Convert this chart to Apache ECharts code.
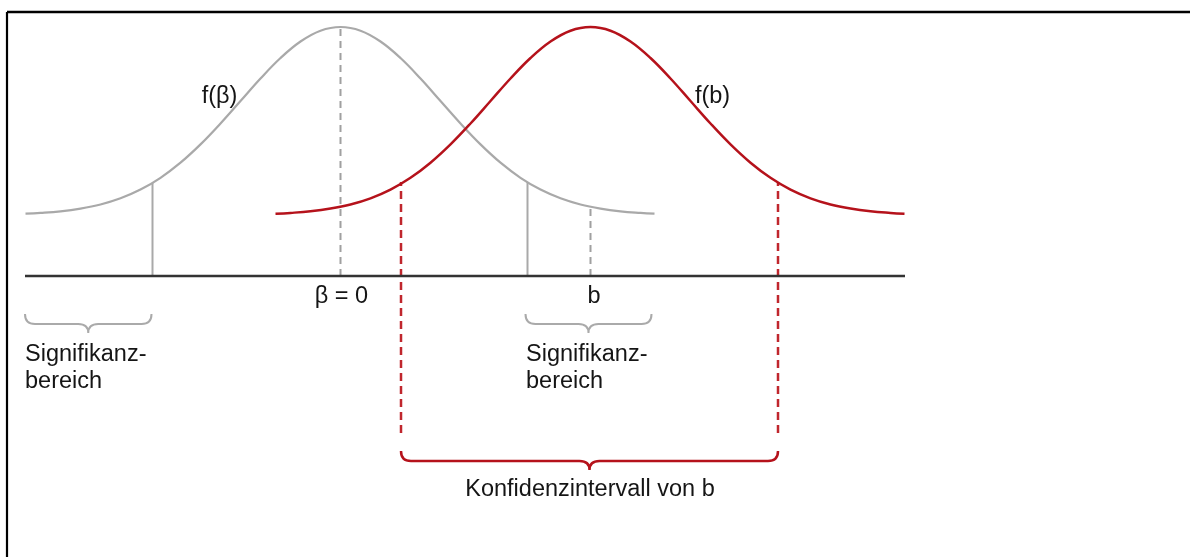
<!DOCTYPE html>
<html>
<head>
<meta charset="utf-8">
<title>Signifikanz und Konfidenzintervall</title>
<script src="https://cdn.jsdelivr.net/npm/echarts@6/dist/echarts.min.js"></script>
<style>
    html, body {margin: 0; padding: 0; background: #fff;}
    #echarts {width: 1190px; height: 557px;}
</style>
</head>
<body>
<div id="echarts"></div>
<script>
// x: Abstand von beta = 0 (1 = eine Standardabweichung), y: Hoehe ueber der Achse
var nullX = [-3.15, -3.0, -2.8, -2.6, -2.4, -2.2, -2.0, -1.8, -1.6, -1.4, -1.2, -1.0, -0.8, -0.6, -0.4, -0.2,
    0, 0.2, 0.4, 0.6, 0.8, 1.0, 1.2, 1.4, 1.6, 1.8, 2.0, 2.2, 2.4, 2.6, 2.8, 3.0, 3.14];
var nullY = [0.623, 0.631, 0.647, 0.674, 0.715, 0.777, 0.864, 0.982, 1.133, 1.316, 1.525, 1.750, 1.975, 2.180, 2.345, 2.453,
    2.490, 2.453, 2.345, 2.180, 1.975, 1.750, 1.525, 1.316, 1.133, 0.982, 0.864, 0.777, 0.715, 0.674, 0.647, 0.631, 0.623];

var bX = [-0.65, -0.5, -0.3, -0.1, 0.1, 0.3, 0.5, 0.7, 0.9, 1.1, 1.3, 1.5, 1.7, 1.9, 2.1, 2.3,
    2.5, 2.7, 2.9, 3.1, 3.3, 3.5, 3.7, 3.9, 4.1, 4.3, 4.5, 4.7, 4.9, 5.1, 5.3, 5.5, 5.64];
var bY = [0.623, 0.631, 0.647, 0.674, 0.715, 0.777, 0.864, 0.982, 1.133, 1.316, 1.525, 1.750, 1.975, 2.180, 2.345, 2.453,
    2.490, 2.453, 2.345, 2.180, 1.975, 1.750, 1.525, 1.316, 1.133, 0.982, 0.864, 0.777, 0.715, 0.674, 0.647, 0.631, 0.623];

var axisLine = [[-3.155, 0], [5.645, 0]];

// [x, y von, y bis]
var sigLines = [[-1.88, 0, 0.93], [1.87, 0, 0.94]];
var centerLines = [[0, 0, 2.49], [2.5, 0, 0.69]];
var ciLines = [[0.605, -1.57, 0.94], [4.375, -1.57, 0.94]];

// [x links, x rechts, y oben]
var sigBraces = [[-3.155, -1.89, -0.38], [1.85, 3.11, -0.38]];
var ciBraces = [[0.605, 4.375, -1.75]];

var labelTexts = ['f(β)', 'f(b)', 'β = 0', 'b', 'Signifikanz-\nbereich', 'Signifikanz-\nbereich', 'Konfidenzintervall von b'];
var labelX = [-1.21, 3.72, 0.01, 2.535, -3.155, 1.855, 2.495];
var labelY = [1.79, 1.79, -0.21, -0.21, -0.925, -0.925, -2.14];

function pairs(xs, ys) {
    var out = [];
    for (var i = 0; i < xs.length; i++) {
        out.push([xs[i], ys[i]]);
    }
    return out;
}

function segmentRender(color, width, dash) {
    return function (params, api) {
        var p1 = api.coord([api.value(0), api.value(1)]);
        var p2 = api.coord([api.value(0), api.value(2)]);
        return {
            type: 'line',
            shape: {x1: p1[0], y1: p1[1], x2: p2[0], y2: p2[1]},
            style: {stroke: color, lineWidth: width, lineDash: dash}
        };
    };
}

function braceRender(color, width) {
    return function (params, api) {
        var a = api.coord([api.value(0), api.value(2)]);
        var b = api.coord([api.value(1), api.value(2)]);
        var top = a[1], h = top + 10, tip = top + 19, r = 10;
        var mid = (a[0] + b[0]) / 2;
        var d = 'M' + a[0] + ' ' + top +
            ' Q' + a[0] + ' ' + h + ' ' + (a[0] + r) + ' ' + h +
            ' L' + (mid - r) + ' ' + h +
            ' Q' + mid + ' ' + h + ' ' + mid + ' ' + tip +
            ' Q' + mid + ' ' + h + ' ' + (mid + r) + ' ' + h +
            ' L' + (b[0] - r) + ' ' + h +
            ' Q' + b[0] + ' ' + h + ' ' + b[0] + ' ' + top;
        return {
            type: 'path',
            shape: {pathData: d},
            style: {stroke: color, lineWidth: width, fill: null}
        };
    };
}

function labelRender(params, api) {
    var p = api.coord([api.value(0), api.value(1)]);
    var txt = labelTexts[params.dataIndex];
    var multi = txt.indexOf('\n') > -1;
    return {
        type: 'text',
        x: p[0],
        y: p[1],
        style: {
            text: txt,
            fill: '#151515',
            fontSize: 23.5,
            fontFamily: '"Liberation Sans", Arial, sans-serif',
            align: multi ? 'left' : 'center',
            verticalAlign: 'middle',
            lineHeight: 27
        }
    };
}

var grau = '#a9a9a9';
var rot = '#b5121b';

var myChart = echarts.init(document.getElementById('echarts'));
var option = {
    animation: false,
    backgroundColor: '#fff',
    grid: {left: 0, right: 0, top: 0, bottom: 0},
    xAxis: {type: 'value', min: -3.405, max: 8.495, show: false},
    yAxis: {type: 'value', min: -2.81, max: 2.76, show: false},
    graphic: [
        {type: 'line', shape: {x1: 7, y1: 12, x2: 1190, y2: 12}, style: {stroke: '#000', lineWidth: 2.5}},
        {type: 'line', shape: {x1: 7, y1: 12, x2: 7, y2: 557}, style: {stroke: '#000', lineWidth: 2.2}}
    ],
    series: [
        {
            type: 'custom', clip: false, renderItem: segmentRender('#a0a0a0', 2, [7, 5]),
            encode: {x: 0, y: [1, 2]}, data: centerLines, z: 1
        },
        {
            type: 'custom', clip: false, renderItem: segmentRender(grau, 2, null),
            encode: {x: 0, y: [1, 2]}, data: sigLines, z: 1
        },
        {
            type: 'line', data: pairs(nullX, nullY), smooth: 0.4, showSymbol: false,
            lineStyle: {color: grau, width: 2.2}, z: 2
        },
        {
            type: 'custom', clip: false, renderItem: segmentRender('#c0262d', 2.5, [8, 5]),
            encode: {x: 0, y: [1, 2]}, data: ciLines, z: 3
        },
        {
            type: 'line', data: pairs(bX, bY), smooth: 0.4, showSymbol: false,
            lineStyle: {color: rot, width: 2.5}, z: 4
        },
        {
            type: 'line', data: axisLine, showSymbol: false,
            lineStyle: {color: '#333', width: 2.5}, z: 5
        },
        {
            type: 'custom', clip: false, renderItem: braceRender('#aaaaaa', 2),
            encode: {x: [0, 1], y: 2}, data: sigBraces
        },
        {
            type: 'custom', clip: false, renderItem: braceRender(rot, 2.5),
            encode: {x: [0, 1], y: 2}, data: ciBraces
        },
        {
            type: 'custom', clip: false, renderItem: labelRender,
            encode: {x: 0, y: 1}, data: pairs(labelX, labelY)
        }
    ]
};
myChart.setOption(option);
</script>
</body>
</html>
